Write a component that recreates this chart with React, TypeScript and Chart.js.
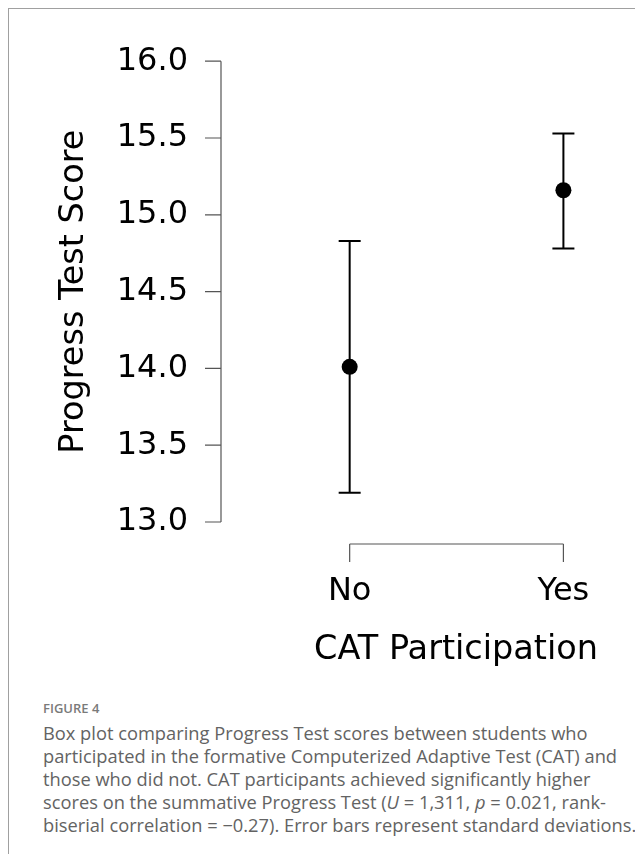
import React, { useEffect, useRef } from 'react';
import { Chart, registerables } from 'chart.js';

Chart.register(...registerables);

// ---- data ----
const categories = ['No', 'Yes'];
const means = [14.01, 15.16];
const sdLower = [13.19, 14.78];
const sdUpper = [14.83, 15.53];
const yTicks = [13.0, 13.5, 14.0, 14.5, 15.0, 15.5, 16.0];
const yTitle = 'Progress Test Score';
const xTitle = 'CAT Participation';
const figureLabel = 'FIGURE 4';

const FONT = "'DejaVu Sans', sans-serif";

const spinePlugin = {
  id: 'spines',
  afterDraw(chart: any) {
    const { ctx, scales, chartArea } = chart;
    const x = scales.x;
    const y = scales.y;
    ctx.save();
    ctx.strokeStyle = '#555555';
    ctx.lineWidth = 1.2;
    // y spine
    const ax = chartArea.left;
    const yTop = y.getPixelForValue(yTicks[yTicks.length - 1]);
    const yBot = y.getPixelForValue(yTicks[0]);
    ctx.beginPath();
    ctx.moveTo(ax, yTop);
    ctx.lineTo(ax, yBot);
    yTicks.forEach((v) => {
      const py = y.getPixelForValue(v);
      ctx.moveTo(ax - 16, py);
      ctx.lineTo(ax, py);
    });
    ctx.stroke();
    // x bracket
    const by = chartArea.bottom + 22;
    const x0 = x.getPixelForValue(0);
    const x1 = x.getPixelForValue(categories.length - 1);
    ctx.beginPath();
    ctx.moveTo(x0, by);
    ctx.lineTo(x1, by);
    categories.forEach((_, i) => {
      const px = x.getPixelForValue(i);
      ctx.moveTo(px, by);
      ctx.lineTo(px, by + 18);
    });
    ctx.stroke();
    ctx.restore();
  },
  beforeDatasetsDraw(chart: any) {
    const { ctx, scales } = chart;
    const x = scales.x;
    const y = scales.y;
    ctx.save();
    ctx.strokeStyle = '#000000';
    ctx.lineWidth = 2;
    categories.forEach((_, i) => {
      const px = x.getPixelForValue(i);
      const lo = y.getPixelForValue(sdLower[i]);
      const hi = y.getPixelForValue(sdUpper[i]);
      ctx.beginPath();
      ctx.moveTo(px, lo);
      ctx.lineTo(px, hi);
      ctx.moveTo(px - 11, lo);
      ctx.lineTo(px + 11, lo);
      ctx.moveTo(px - 11, hi);
      ctx.lineTo(px + 11, hi);
      ctx.stroke();
    });
    ctx.restore();
  },
};

function ChartCanvas() {
  const ref = useRef<HTMLCanvasElement | null>(null);
  useEffect(() => {
    if (!ref.current) return;
    const chart = new Chart(ref.current, {
      type: 'scatter',
      data: {
        datasets: [
          {
            data: categories.map((_, i) => ({ x: i, y: means[i] })),
            pointRadius: 8,
            pointHoverRadius: 8,
            pointBackgroundColor: '#000000',
            pointBorderWidth: 0,
            borderColor: '#000000',
            showLine: false,
          },
        ],
      },
      options: {
        responsive: false,
        animation: false,
        layout: { padding: { top: 50, left: 30, right: 41, bottom: 5 } },
        plugins: { legend: { display: false }, tooltip: { enabled: false } },
        scales: {
          x: {
            type: 'linear',
            min: -0.602,
            max: 1.162,
            grid: { display: false, drawTicks: false },
            border: { display: false },
            afterBuildTicks: (s: any) => {
              s.ticks = categories.map((_, i) => ({ value: i }));
            },
            afterFit: (s: any) => {
              s.height = 152;
            },
            ticks: {
              padding: 50,
              color: '#000000',
              font: { family: FONT, size: 32 },
              maxRotation: 0,
              autoSkip: false,
              callback: (v: any) => categories[Math.round(Number(v))] ?? '',
            },
            title: {
              display: true,
              text: xTitle,
              align: 'end',
              color: '#000000',
              font: { family: FONT, size: 33.5 },
              padding: { top: 20, bottom: 4 },
            },
          },
          y: {
            type: 'linear',
            min: yTicks[0],
            max: yTicks[yTicks.length - 1],
            grid: { display: false, drawTicks: false },
            border: { display: false },
            afterBuildTicks: (s: any) => {
              s.ticks = yTicks.map((v) => ({ value: v }));
            },
            afterFit: (s: any) => {
              s.width = 182;
            },
            ticks: {
              padding: 33,
              color: '#000000',
              font: { family: FONT, size: 32 },
              callback: (v: any) => Number(v).toFixed(1),
            },
            title: {
              display: true,
              text: yTitle,
              color: '#000000',
              font: { family: FONT, size: 33.5 },
              padding: { top: 15, bottom: 4 },
            },
          },
        },
      },
      plugins: [spinePlugin],
    } as any);
    return () => chart.destroy();
  }, []);
  return <canvas ref={ref} width={634} height={670} style={{ display: 'block' }} />;
}

export default function App() {
  const captionStyle: React.CSSProperties = {
    position: 'absolute',
    left: 34,
    top: 690,
    fontFamily: "'Open Sans', Lato, sans-serif",
    color: '#636363',
    whiteSpace: 'nowrap',
  };
  return (
    <div>
      <style>{`html,body{overflow:hidden}`}</style>
      <div
        style={{
          position: 'relative',
          width: 640,
          height: 900,
          borderTop: '1px solid #a0a0a0',
          borderLeft: '1px solid #a0a0a0',
          boxSizing: 'border-box',
          background: '#ffffff',
        }}
      >
        <ChartCanvas />
        <div style={captionStyle}>
          <div style={{ fontSize: 13, lineHeight: '18px', fontWeight: 600, color: '#7a7a7a', marginBottom: 4 }}>
            {figureLabel}
          </div>
          <div style={{ fontSize: 18.3, lineHeight: '23px' }}>
            Box plot comparing Progress Test scores between students who
            <br />
            participated in the formative Computerized Adaptive Test (CAT) and
            <br />
            those who did not. CAT participants achieved significantly higher
            <br />
            scores on the summative Progress Test (<i>U</i> = 1,311, <i>p</i> = 0.021, rank-
            <br />
            biserial correlation = −0.27). Error bars represent standard deviations.
          </div>
        </div>
      </div>
    </div>
  );
}
